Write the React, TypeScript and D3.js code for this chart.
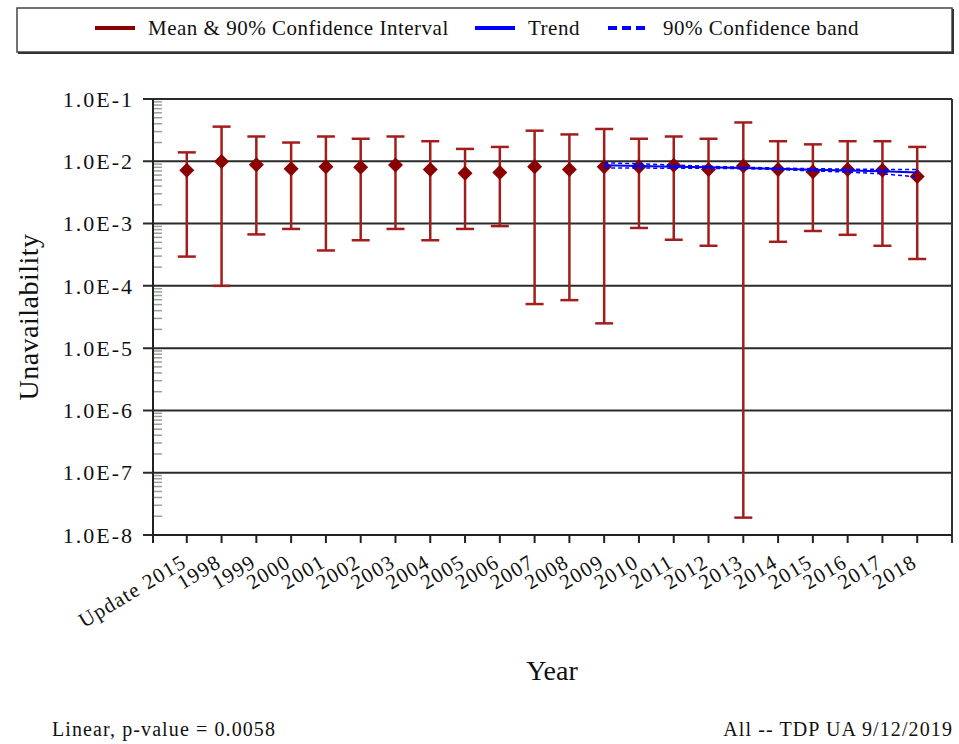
import * as d3 from "d3";

const categories = [
  "Update 2015", "1998", "1999", "2000", "2001", "2002", "2003", "2004", "2005", "2006", "2007",
  "2008", "2009", "2010", "2011", "2012", "2013", "2014", "2015", "2016", "2017", "2018",
];
const means = [
  7.2e-3, 9.9e-3, 8.8e-3, 7.6e-3, 8.2e-3, 8.0e-3, 8.7e-3, 7.4e-3, 6.4e-3, 6.6e-3, 8.2e-3,
  7.4e-3, 8.2e-3, 8.2e-3, 8.6e-3, 7.4e-3, 8.4e-3, 7.4e-3, 6.8e-3, 7.4e-3, 7.2e-3, 5.7e-3,
];
const upper = [
  1.39e-2, 3.6e-2, 2.5e-2, 2.0e-2, 2.5e-2, 2.3e-2, 2.5e-2, 2.1e-2, 1.58e-2, 1.7e-2, 3.1e-2,
  2.7e-2, 3.3e-2, 2.3e-2, 2.5e-2, 2.3e-2, 4.2e-2, 2.1e-2, 1.87e-2, 2.1e-2, 2.1e-2, 1.7e-2,
];
const lower = [
  2.95e-4, 1.0e-4, 6.7e-4, 8.2e-4, 3.7e-4, 5.4e-4, 8.2e-4, 5.4e-4, 8.2e-4, 9.1e-4, 5.1e-5,
  5.9e-5, 2.5e-5, 8.5e-4, 5.5e-4, 4.4e-4, 1.9e-8, 5.1e-4, 7.6e-4, 6.6e-4, 4.4e-4, 2.7e-4,
];

const trendYears = ["2009", "2010", "2011", "2012", "2013", "2014", "2015", "2016", "2017", "2018"];
const trend = [8.6e-3, 8.4e-3, 8.2e-3, 8.0e-3, 7.8e-3, 7.6e-3, 7.3e-3, 7.1e-3, 6.9e-3, 6.6e-3];
const bandHigh = [9.5e-3, 9.1e-3, 8.7e-3, 8.3e-3, 8.0e-3, 7.8e-3, 7.6e-3, 7.5e-3, 7.4e-3, 7.4e-3];
const bandLow = [7.8e-3, 7.8e-3, 7.7e-3, 7.7e-3, 7.6e-3, 7.4e-3, 7.0e-3, 6.7e-3, 6.3e-3, 5.6e-3];

const yTickValues = [1e-1, 1e-2, 1e-3, 1e-4, 1e-5, 1e-6, 1e-7, 1e-8];
const yTickLabels = ["1.0E-1", "1.0E-2", "1.0E-3", "1.0E-4", "1.0E-5", "1.0E-6", "1.0E-7", "1.0E-8"];

const width = 959;
const height = 744;
const plot = { left: 153, right: 952, top: 99, bottom: 535 };
const font = "'Liberation Serif', 'Times New Roman', serif";
const red = "#8b0000";
const barRed = "#a31d1d";
const blue = "#0000ff";

export default function App() {
  const x = d3.scalePoint<string>().domain(categories).range([plot.left - 1, plot.right]).padding(1);
  const y = d3.scaleLog().domain([1e-8, 1e-1]).range([plot.bottom, plot.top]);

  const minor = y.ticks().filter((t) => Math.abs(Math.log10(t) - Math.round(Math.log10(t))) > 1e-6);

  const line = d3
    .line<[string, number]>()
    .x((d) => x(d[0]) as number)
    .y((d) => y(d[1]));

  const half = 7.5;
  const cap = 9;

  return (
    <svg
      width={width}
      height={height}
      style={{ position: "absolute", left: 0, top: 0, background: "#fff" }}
      fontFamily={font}
    >
      {/* legend */}
      <g>
        <rect x={17} y={8} width={935} height={44} fill="none" stroke="#444" strokeWidth={1.5} />
        <line x1={953} x2={953} y1={9} y2={53} stroke="#333" strokeWidth={2} />
        <line x1={18} x2={954} y1={53} y2={53} stroke="#333" strokeWidth={2} />
        <line x1={95} x2={135} y1={28} y2={28} stroke={red} strokeWidth={4} />
        <text x={148} y={35} fontSize={21} letterSpacing={0.5} fill="#111">Mean &amp; 90% Confidence Interval</text>
        <line x1={475} x2={515} y1={28} y2={28} stroke={blue} strokeWidth={4} />
        <text x={528} y={35} fontSize={21} letterSpacing={0.5} fill="#111">Trend</text>
        <line x1={608} x2={648} y1={28} y2={28} stroke={blue} strokeWidth={4} strokeDasharray="9,5" />
        <text x={663} y={35} fontSize={21} letterSpacing={0.5} fill="#111">90% Confidence band</text>
      </g>

      {/* gridlines and y axis */}
      {yTickValues.map((v, i) => (
        <g key={v}>
          <line x1={plot.left - 10} x2={plot.right} y1={y(v)} y2={y(v)} stroke="#2a2a2a" strokeWidth={2} />
          <text
            x={134}
            y={y(v)}
            dy="0.35em"
            textAnchor="end"
            fontSize={22}
            letterSpacing={2}
            fill="#111"
          >
            {yTickLabels[i]}
          </text>
        </g>
      ))}
      {minor.map((t) => (
        <line key={t} x1={plot.left + 1} x2={plot.left + 9} y1={y(t)} y2={y(t)} stroke="#97a397" strokeWidth={1.5} />
      ))}
      <line x1={plot.left} x2={plot.left} y1={plot.top} y2={plot.bottom} stroke="#222" strokeWidth={2} />
      <line x1={plot.right} x2={plot.right} y1={plot.top} y2={plot.bottom + 8} stroke="#333" strokeWidth={2} />
      <line x1={plot.left} x2={plot.right} y1={plot.bottom} y2={plot.bottom} stroke="#222" strokeWidth={2} />

      {/* x axis ticks and labels */}
      {[plot.left, ...categories.map((c) => x(c) as number)].map((px, i) => (
        <line key={i} x1={px} x2={px} y1={plot.bottom} y2={plot.bottom + 8} stroke="#222" strokeWidth={2} />
      ))}
      {categories.map((c) => {
        const px = (x(c) as number) + 1;
        const py = 566;
        return (
          <text
            key={c}
            x={px}
            y={py}
            textAnchor="end"
            fontSize={21}
            letterSpacing={1.2}
            fill="#111"
            transform={`rotate(-31, ${px}, ${py})`}
          >
            {c}
          </text>
        );
      })}

      {/* error bars */}
      {categories.map((c, i) => {
        const px = x(c) as number;
        return (
          <g key={c} stroke={barRed} strokeWidth={2.5}>
            <line x1={px} x2={px} y1={y(upper[i])} y2={y(lower[i])} />
            <line x1={px - cap} x2={px + cap} y1={y(upper[i])} y2={y(upper[i])} />
            <line x1={px - cap} x2={px + cap} y1={y(lower[i])} y2={y(lower[i])} />
          </g>
        );
      })}
      {categories.map((c, i) => {
        const px = x(c) as number;
        const py = y(means[i]);
        return (
          <path
            key={c}
            d={`M${px},${py - half}L${px + half},${py}L${px},${py + half}L${px - half},${py}Z`}
            fill={red}
          />
        );
      })}

      {/* trend */}
      <path
        d={line(trendYears.map((t, i) => [t, bandHigh[i]]) as [string, number][]) ?? ""}
        fill="none"
        stroke={blue}
        strokeWidth={1.5}
        strokeDasharray="4,3"
      />
      <path
        d={line(trendYears.map((t, i) => [t, bandLow[i]]) as [string, number][]) ?? ""}
        fill="none"
        stroke={blue}
        strokeWidth={1.5}
        strokeDasharray="4,3"
      />
      <path
        d={line(trendYears.map((t, i) => [t, trend[i]]) as [string, number][]) ?? ""}
        fill="none"
        stroke={blue}
        strokeWidth={2}
      />

      {/* axis titles */}
      <text
        transform={`translate(38, ${(plot.top + plot.bottom) / 2}) rotate(-90)`}
        textAnchor="middle"
        fontSize={28}
        letterSpacing={0.5}
        fill="#111"
      >
        Unavailability
      </text>
      <text x={552} y={680} textAnchor="middle" fontSize={28} fill="#111">
        Year
      </text>

      {/* footer */}
      <text x={52} y={736} fontSize={20} letterSpacing={1.1} fill="#111">
        Linear, p-value = 0.0058
      </text>
      <text x={953} y={736} textAnchor="end" fontSize={20} letterSpacing={1.1} fill="#111">
        All -- TDP UA 9/12/2019
      </text>
    </svg>
  );
}
